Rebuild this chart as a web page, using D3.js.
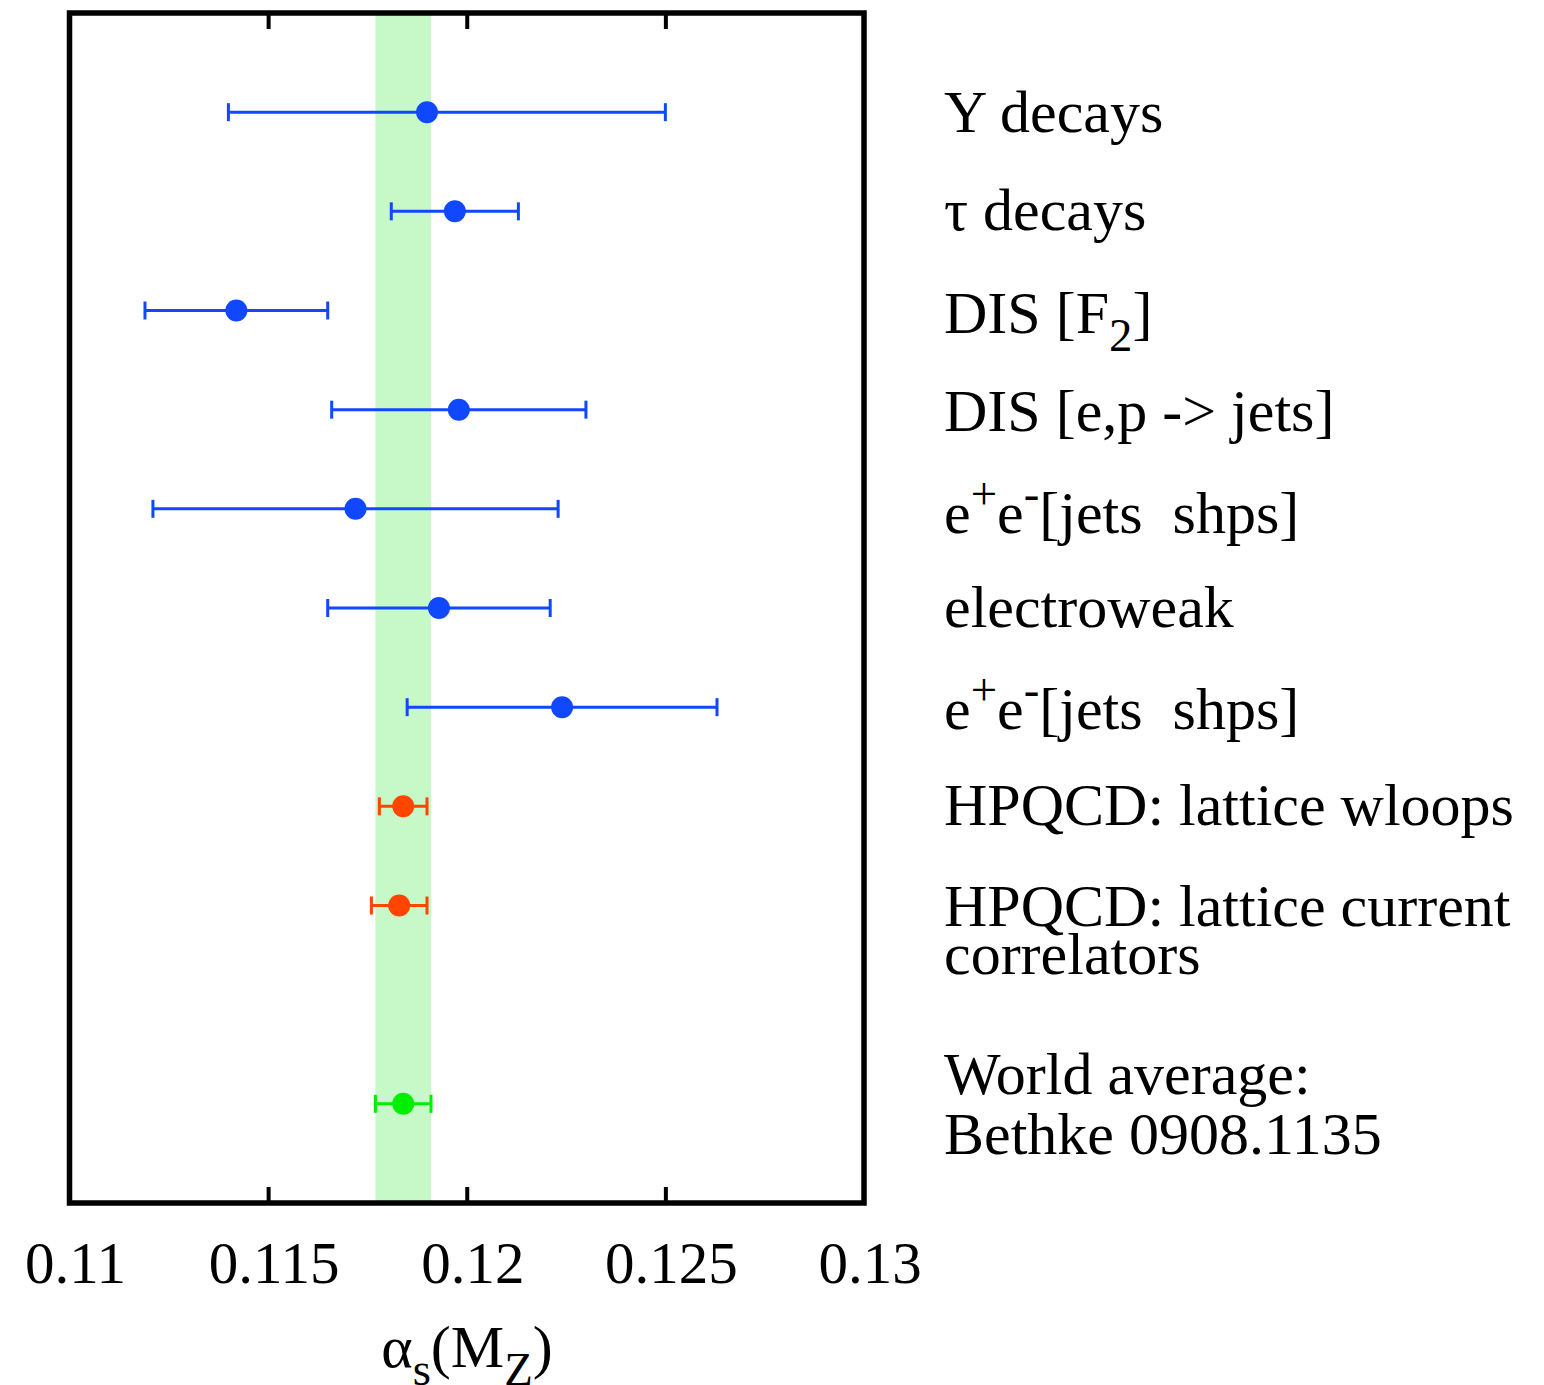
<!DOCTYPE html>
<html>
<head>
<meta charset="utf-8">
<script src="https://cdn.jsdelivr.net/npm/d3@7"></script>
<style>
  body { margin: 0; background: #fff; }
  svg text { font-family: "Liberation Serif", "Times New Roman", serif; fill: #000; white-space: pre; }
</style>
</head>
<body>
<div id="chart"></div>
<script>
// --- data ---
const labels = [
  ["Υ decays"],
  ["τ decays"],
  ["DIS [F_{2}]"],
  ["DIS [e,p -> jets]"],
  ["e^{+}e^{-}[jets  shps]"],
  ["electroweak"],
  ["e^{+}e^{-}[jets  shps]"],
  ["HPQCD: lattice wloops"],
  ["HPQCD: lattice current", "correlators"],
  ["World average:", "Bethke 0908.1135"]
];
const rows    = [1, 2, 3, 4, 5, 6, 7, 8, 9, 11];
const centres = [0.1190, 0.1197, 0.1142, 0.1198, 0.1172, 0.1193, 0.1224, 0.1184, 0.1183, 0.1184];
const lows    = [0.1140, 0.1181, 0.1119, 0.1166, 0.1121, 0.1165, 0.1185, 0.1178, 0.1176, 0.1177];
const highs   = [0.1250, 0.1213, 0.1165, 0.1230, 0.1223, 0.1221, 0.1263, 0.1190, 0.1190, 0.1191];
const kinds   = ["exp", "exp", "exp", "exp", "exp", "exp", "exp", "lat", "lat", "avg"];
const band    = [0.1177, 0.1191];
const xTicks  = [0.11, 0.115, 0.12, 0.125, 0.13];

const colour = { exp: "#1048ff", lat: "#ff4500", avg: "#00ee00" };

const W = 1544, H = 1385;
const pLeft = 69.5, pRight = 864, pTop = 13, pBottom = 1203;
const FS = 60;

const x = d3.scaleLinear().domain([0.11, 0.13]).range([pLeft, pRight]);
const y = d3.scaleLinear().domain([0, 12]).range([pTop, pBottom]);

const svg = d3.select("#chart").append("svg")
  .attr("width", W).attr("height", H);

// world average band
svg.append("rect")
  .attr("x", x(band[0])).attr("y", pTop)
  .attr("width", x(band[1]) - x(band[0]))
  .attr("height", pBottom - pTop)
  .attr("fill", "#c6f8c8");

// ticks (inward, top and bottom)
const inner = xTicks.slice(1, -1);
const tickAxisB = d3.axisBottom(x).tickValues(inner).tickSize(-16).tickFormat("");
const tickAxisT = d3.axisTop(x).tickValues(inner).tickSize(-16).tickFormat("");
[svg.append("g").attr("transform", `translate(0,${pBottom})`).call(tickAxisB),
 svg.append("g").attr("transform", `translate(0,${pTop})`).call(tickAxisT)]
  .forEach(g => {
    g.select(".domain").remove();
    g.selectAll(".tick line").attr("stroke", "#000").attr("stroke-width", 4);
  });

// points + error bars
const pts = d3.range(centres.length).map(i => ({
  row: rows[i], c: centres[i], lo: lows[i], hi: highs[i], kind: kinds[i]
}));

const g = svg.append("g");
const bars = g.selectAll(".pt").data(pts).enter().append("g").attr("class", "pt");
bars.append("line")
  .attr("x1", d => x(d.lo)).attr("x2", d => x(d.hi))
  .attr("y1", d => y(d.row)).attr("y2", d => y(d.row))
  .attr("stroke", d => colour[d.kind]).attr("stroke-width", 3);
["lo", "hi"].forEach(k => {
  bars.append("line")
    .attr("x1", d => x(d[k])).attr("x2", d => x(d[k]))
    .attr("y1", d => y(d.row) - 9).attr("y2", d => y(d.row) + 9)
    .attr("stroke", d => colour[d.kind]).attr("stroke-width", 3);
});
bars.append("circle")
  .attr("cx", d => x(d.c)).attr("cy", d => y(d.row))
  .attr("r", 11)
  .attr("fill", d => colour[d.kind]);

// frame
svg.append("rect")
  .attr("x", pLeft).attr("y", pTop)
  .attr("width", pRight - pLeft).attr("height", pBottom - pTop)
  .attr("fill", "none").attr("stroke", "#000").attr("stroke-width", 5.5);

// tick labels
svg.selectAll(".tl").data(xTicks).enter().append("text")
  .attr("class", "tl")
  .attr("x", d => x(d) + 6).attr("y", 1283)
  .attr("text-anchor", "middle")
  .attr("font-size", 59)
  .text(d => String(+d.toFixed(3)));

// rich text helper: ^{..} superscript, _{..} subscript
function richText(sel, str, size) {
  const parts = str.split(/(\^\{[^}]*\}|_\{[^}]*\})/).filter(s => s.length);
  let shift = 0;
  parts.forEach(p => {
    let dy = 0, fs = size, t = p;
    if (p.startsWith("^{")) { t = p.slice(2, -1); fs = size * 0.78; dy = -size * 0.4; }
    else if (p.startsWith("_{")) { t = p.slice(2, -1); fs = size * 0.78; dy = size * 0.3; }
    sel.append("tspan")
      .attr("font-size", fs)
      .attr("dy", dy - shift)
      .text(t);
    shift = dy;
  });
}

// category labels
const lineOffsets = [[20], [19], [22], [21], [24], [19], [22], [19], [20, 68], [-10, 50]];
labels.forEach((lines, i) => {
  lines.forEach((ln, j) => {
    const t = svg.append("text")
      .attr("x", 944)
      .attr("y", y(rows[i]) + lineOffsets[i][j])
      .attr("font-size", FS);
    richText(t, ln, FS);
  });
});

// axis title
const title = svg.append("text")
  .attr("x", 467).attr("y", 1367)
  .attr("text-anchor", "middle")
  .attr("font-size", FS);
richText(title, "α_{s}(M_{Z})", FS);
</script>
</body>
</html>
